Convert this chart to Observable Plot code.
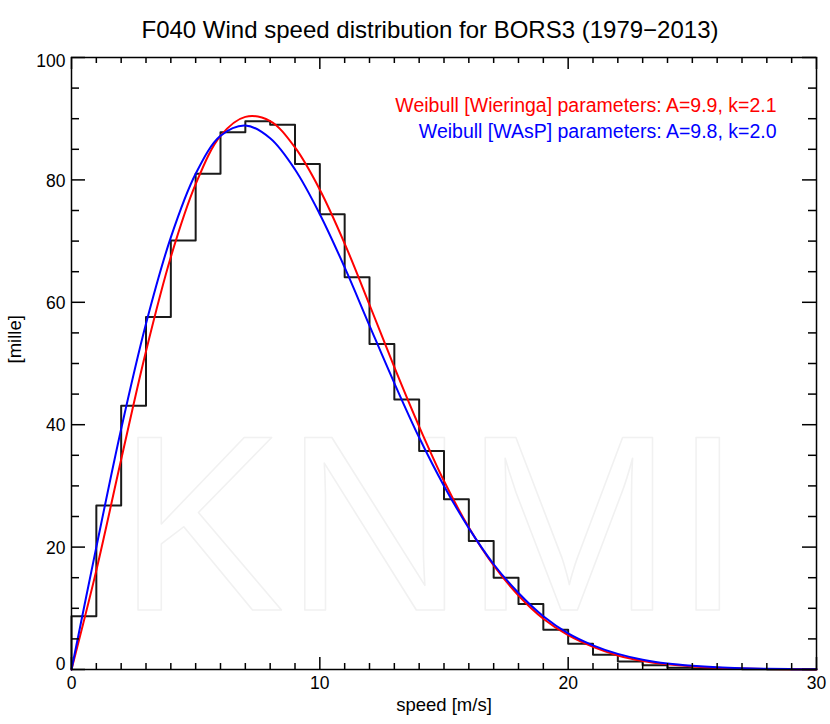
<!DOCTYPE html>
<html><head><meta charset="utf-8">
<script src="https://cdn.jsdelivr.net/npm/d3@7"></script>
<script src="https://cdn.jsdelivr.net/npm/@observablehq/plot@0.6"></script>
<style>body{margin:0;background:#fff} svg{font-family:"Liberation Sans",Arial,Helvetica,sans-serif}</style>
</head><body><div id="chart"></div>
<script>
// Histogram: bin starts (m/s) and frequencies (per mille)
const binStarts = [0,1,2,3,4,5,6,7,8,9,10,11,12,13,14,15,16,17,18,19,20,21,22,23,24,25,26,27,28,29];
const binValues = [8.7,26.8,43.1,57.6,70.1,81.0,87.8,89.6,89.0,82.6,74.4,64.1,53.2,44.1,35.7,27.8,21.0,15.0,10.7,6.5,4.2,2.4,1.3,0.7,0.3,0.15,0.08,0.04,0.02,0.01];
// Fitted curves
const curveSpeeds = [0,1,2,3,4,5,6,7,8,9,10,11,12,13,14,15,16,17,18,19,20,21,22,23,24,25,26,27,28,29,30];
const wieringa = [0,16.2,34.3,52.0,67.4,79.3,87.2,90.3,89.6,85.3,78.4,69.6,59.6,49.4,39.7,30.8,23.2,17.0,12.1,8.3,5.6,3.7,2.3,1.4,0.85,0.5,0.28,0.15,0.08,0.04,0.02];
const wasp = [0,20.0,39.3,56.5,70.6,81.0,87.2,88.9,86.8,81.7,74.4,65.7,56.2,46.8,37.9,30.0,23.1,17.2,12.5,8.7,5.9,3.95,2.55,1.6,0.98,0.6,0.35,0.2,0.11,0.06,0.03];
// Ticks
const xMajor = [0,10,20,30];
const xMinor = [1,2,3,4,5,6,7,8,9,11,12,13,14,15,16,17,18,19,21,22,23,24,25,26,27,28,29];
const yMajor = [0,20,40,60,80,100];
const yMinor = [5,10,15,25,30,35,45,50,55,65,70,75,85,90,95];
// Texts
const title = "F040 Wind speed distribution for BORS3 (1979\u22122013)";
const legendRed = "Weibull [Wieringa] parameters: A=9.9, k=2.1";
const legendBlue = "Weibull [WAsP] parameters: A=9.8, k=2.0";
const xLabel = "speed [m/s]";
const yLabel = "[mille]";

const W = 830, H = 724, mL = 71, mR = 14, mT = 57, mB = 55;
const pw = W - mL - mR, ph = H - mT - mB;

const hist = [{x: 0, y: 0}, ...binStarts.map((s, i) => ({x: s, y: binValues[i]})),
  {x: binStarts[binStarts.length - 1] + 1, y: binValues[binValues.length - 1]}];
const red = curveSpeeds.map((s, i) => ({x: s, y: wieringa[i]}));
const blue = curveSpeeds.map((s, i) => ({x: s, y: wasp[i]}));

const chart = Plot.plot({
  width: W, height: H,
  marginLeft: mL, marginRight: mR, marginTop: mT, marginBottom: mB,
  x: {domain: [0, 30], axis: null},
  y: {domain: [0, 100], axis: null},
  style: {fontFamily: '"Liberation Sans", Arial, sans-serif', background: "#fff"},
  marks: [
    // faint watermark
    Plot.text(["KNMI"], {frameAnchor: "bottom", dy: -60, dx: -14, text: d => d, fontSize: 250, fill: "none", stroke: "#f1f1f1", strokeWidth: 1.5}),
    Plot.line(hist, {x: "x", y: "y", curve: "step-after", stroke: "#1a1a1a", strokeWidth: 2}),
    Plot.line(red, {x: "x", y: "y", curve: "catmull-rom", stroke: "#ff0000", strokeWidth: 2}),
    Plot.line(blue, {x: "x", y: "y", curve: "catmull-rom", stroke: "#0000ff", strokeWidth: 2}),
    // inward ticks, all four sides
    Plot.ruleX(xMajor, {x: d => d, insetTop: ph - 12, stroke: "black", strokeWidth: 1.5}),
    Plot.ruleX(xMinor, {x: d => d, insetTop: ph - 6, stroke: "black", strokeWidth: 1.5}),
    Plot.ruleX(xMajor, {x: d => d, insetBottom: ph - 12, stroke: "black", strokeWidth: 1.5}),
    Plot.ruleX(xMinor, {x: d => d, insetBottom: ph - 6, stroke: "black", strokeWidth: 1.5}),
    Plot.ruleY(yMajor, {y: d => d, insetRight: pw - 14, stroke: "black", strokeWidth: 1.5}),
    Plot.ruleY(yMinor, {y: d => d, insetRight: pw - 8, stroke: "black", strokeWidth: 1.5}),
    Plot.ruleY(yMajor, {y: d => d, insetLeft: pw - 14, stroke: "black", strokeWidth: 1.5}),
    Plot.ruleY(yMinor, {y: d => d, insetLeft: pw - 8, stroke: "black", strokeWidth: 1.5}),
    Plot.frame({stroke: "black", strokeWidth: 1.5}),
    // tick labels
    Plot.text(xMajor, {x: d => d, text: d => String(d), frameAnchor: "bottom", dy: 19, fontSize: 17.5}),
    Plot.text(yMajor.filter(d => d > 0 && d < 100), {y: d => d, text: d => String(d), frameAnchor: "left", dx: -6, dy: 1, textAnchor: "end", fontSize: 17.5}),
    Plot.text(yMajor.filter(d => d === 100), {y: d => d, text: d => String(d), frameAnchor: "left", dx: -6, dy: 4, textAnchor: "end", fontSize: 17.5}),
    Plot.text(yMajor.filter(d => d === 0), {y: d => d, text: d => String(d), frameAnchor: "left", dx: -6, dy: -5, textAnchor: "end", fontSize: 17.5}),
    // axis titles
    Plot.text([xLabel], {text: d => d, frameAnchor: "bottom", dy: 41, fontSize: 18.5}),
    Plot.text([yLabel], {text: d => d, frameAnchor: "left", dx: -56, rotate: -90, fontSize: 18.5}),
    // title
    Plot.text([title], {text: d => d, frameAnchor: "top", dx: -14, dy: -37, fontSize: 24}),
    // legend
    Plot.text([legendRed], {text: d => d, frameAnchor: "top-right", dx: -40, dy: 41, textAnchor: "end", fontSize: 19.5, fill: "#ff0000"}),
    Plot.text([legendBlue], {text: d => d, frameAnchor: "top-right", dx: -40, dy: 67, textAnchor: "end", fontSize: 19.5, fill: "#0000ff"})
  ]
});
document.getElementById("chart").appendChild(chart);
</script>
</body></html>
